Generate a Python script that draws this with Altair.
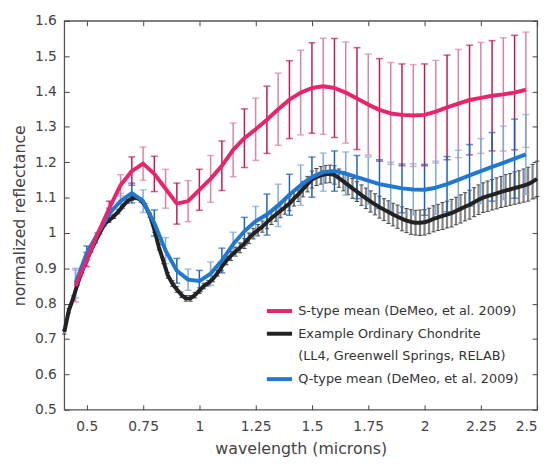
import altair as alt
import pandas as pd

# ---------------- data ----------------
demeo_wavelength = [0.45, 0.50, 0.55, 0.60, 0.65, 0.70, 0.75, 0.80, 0.85, 0.90,
                    0.95, 1.00, 1.05, 1.10, 1.15, 1.20, 1.25, 1.30, 1.35, 1.40,
                    1.45, 1.50, 1.55, 1.60, 1.65, 1.70, 1.75, 1.80, 1.85, 1.90,
                    1.95, 2.00, 2.05, 2.10, 2.15, 2.20, 2.25, 2.30, 2.35, 2.40, 2.45]

s_mean = [0.850, 0.925, 1.000, 1.070, 1.135, 1.175, 1.196, 1.167, 1.125, 1.083,
          1.090, 1.122, 1.153, 1.190, 1.235, 1.268, 1.293, 1.320, 1.350, 1.377,
          1.397, 1.410, 1.415, 1.410, 1.397, 1.380, 1.363, 1.348, 1.338, 1.334,
          1.332, 1.334, 1.343, 1.355, 1.366, 1.376, 1.382, 1.388, 1.392, 1.397, 1.405]
s_err = [0.045, 0.020, 0.000, 0.020, 0.030, 0.040, 0.047, 0.050, 0.055, 0.058,
         0.058, 0.058, 0.066, 0.070, 0.076, 0.083, 0.088, 0.095, 0.102, 0.110,
         0.120, 0.128, 0.136, 0.140, 0.143, 0.144, 0.143, 0.145, 0.144, 0.144,
         0.144, 0.144, 0.145, 0.148, 0.153, 0.155, 0.157, 0.156, 0.160, 0.162, 0.163]

q_mean = [0.858, 0.943, 1.000, 1.055, 1.090, 1.113, 1.090, 1.028, 0.950, 0.893,
          0.868, 0.864, 0.885, 0.922, 0.968, 1.005, 1.033, 1.052, 1.078, 1.108,
          1.135, 1.158, 1.172, 1.175, 1.168, 1.158, 1.148, 1.138, 1.132, 1.126,
          1.123, 1.122, 1.128, 1.138, 1.150, 1.163, 1.175, 1.187, 1.198, 1.210, 1.222]
q_err = [0.042, 0.020, 0.000, 0.015, 0.022, 0.028, 0.032, 0.037, 0.037, 0.035,
         0.030, 0.030, 0.033, 0.035, 0.034, 0.039, 0.042, 0.058, 0.060, 0.058,
         0.057, 0.057, 0.054, 0.057, 0.061, 0.061, 0.067, 0.069, 0.068, 0.069,
         0.072, 0.072, 0.075, 0.078, 0.084, 0.087, 0.092, 0.097, 0.104, 0.112, 0.113]

# ordinary chondrite spectrum, sampled every 0.02 micron from 0.40 to 2.50
oc_wavelength = [round(0.40 + 0.02 * i, 2) for i in range(106)]
oc_refl = [0.720, 0.780, 0.816, 0.858, 0.893, 0.924, 0.952, 0.978, 1.003, 1.026,
           1.036, 1.047, 1.060, 1.076, 1.090, 1.098, 1.100, 1.093, 1.077, 1.050,
           1.010, 0.960, 0.921, 0.880, 0.857, 0.840, 0.825, 0.815, 0.815, 0.824,
           0.837, 0.850, 0.858, 0.870, 0.886, 0.905, 0.922, 0.935, 0.947, 0.958,
           0.970, 0.985, 0.998, 1.008, 1.018, 1.030, 1.042, 1.052, 1.062, 1.073,
           1.083, 1.097, 1.110, 1.124, 1.138, 1.151, 1.158, 1.163, 1.166, 1.167,
           1.164, 1.155, 1.146, 1.136, 1.126, 1.117, 1.107, 1.098, 1.089, 1.081,
           1.073, 1.066, 1.059, 1.052, 1.046, 1.040, 1.035, 1.031, 1.029, 1.029,
           1.030, 1.034, 1.040, 1.044, 1.048, 1.052, 1.056, 1.062, 1.068, 1.074,
           1.080, 1.087, 1.094, 1.100, 1.104, 1.108, 1.112, 1.116, 1.120, 1.123,
           1.127, 1.130, 1.134, 1.138, 1.145, 1.153]
oc_err = [0.006] * 20 + [0.008] * 15 + [
    0.012, 0.012, 0.013, 0.013, 0.014, 0.014, 0.015, 0.015, 0.016, 0.016,
    0.018, 0.018, 0.019, 0.019, 0.020, 0.020, 0.021, 0.021, 0.022, 0.022,
    0.024, 0.024, 0.025, 0.025, 0.025, 0.026, 0.026, 0.027, 0.027, 0.028,
    0.028, 0.029, 0.029, 0.030, 0.030, 0.031, 0.031, 0.032, 0.032, 0.033,
    0.034, 0.034, 0.035, 0.035, 0.036, 0.036, 0.036, 0.037, 0.037, 0.038,
    0.038, 0.039, 0.039, 0.040, 0.040, 0.041, 0.041, 0.042, 0.042, 0.043,
    0.043, 0.044, 0.044, 0.045, 0.045, 0.046, 0.046, 0.047, 0.048, 0.049, 0.050]

S_NAME = "S-type mean (DeMeo, et al. 2009)"
OC_NAME = "Example Ordinary Chondrite"
OC_NOTE = "(LL4, Greenwell Springs, RELAB)"
Q_NAME = "Q-type mean (DeMeo, et al. 2009)"

x_ticks = [0.5, 0.75, 1.0, 1.25, 1.5, 1.75, 2.0, 2.25, 2.5]
y_ticks = [0.5, 0.6, 0.7, 0.8, 0.9, 1.0, 1.1, 1.2, 1.3, 1.4, 1.5, 1.6]

PINK = "#e8256c"
BLACK = "#222222"
BLUE = "#2178d3"
PINK_DARK, PINK_LIGHT = "#c2185b", "#de82a3"
BLUE_DARK, BLUE_LIGHT = "#1a62b8", "#7fa9db"

FONT = "DejaVu Sans"
TEXT = "#444444"

# ---------------- tables ----------------
s_df = pd.DataFrame({"wavelength": demeo_wavelength, "refl": s_mean, "err": s_err,
                     "series": S_NAME})
q_df = pd.DataFrame({"wavelength": demeo_wavelength, "refl": q_mean, "err": q_err,
                     "series": Q_NAME})
oc_df = pd.DataFrame({"wavelength": oc_wavelength, "refl": oc_refl, "err": oc_err,
                      "series": OC_NAME})
for d in (s_df, q_df, oc_df):
    d["lo"] = d["refl"] - d["err"]
    d["hi"] = d["refl"] + d["err"]
    d["odd"] = [i % 2 for i in range(len(d))]

xscale = alt.Scale(domain=[0.4, 2.5], nice=False, zero=False)
yscale = alt.Scale(domain=[0.5, 1.6], nice=False, zero=False)

W, H = 479, 394

x_bottom = alt.Axis(orient="bottom", values=x_ticks, format=".2~f",
                    title="wavelength (microns)", tickSize=5, offset=-5,
                    domain=False, grid=False, labelPadding=10, titlePadding=7)
y_left = alt.Axis(orient="left", values=y_ticks, format=".2~f",
                  title="normalized reflectance", tickSize=5, offset=-5,
                  domain=False, grid=False, labelPadding=8, titlePadding=7)
x_top = alt.Axis(orient="top", values=x_ticks, labels=False, title=None,
                 tickSize=5, offset=-5, domain=False, grid=False)
y_right = alt.Axis(orient="right", values=y_ticks, labels=False, title=None,
                   tickSize=5, offset=-5, domain=False, grid=False)


def xq(axis=None):
    return alt.X("wavelength:Q", scale=xscale, axis=axis)


def bars(df, color, cap_size, cap_color, width, cap_width, axes=None):
    ax_x, ax_y = (axes if axes else (None, None))
    base = alt.Chart(df)
    rule = base.mark_rule(color=color, strokeWidth=width).encode(
        x=xq(ax_x),
        y=alt.Y("lo:Q", scale=yscale, axis=ax_y),
        y2="hi:Q",
    )
    cap_lo = base.mark_tick(color=cap_color, orient="horizontal", size=cap_size,
                            thickness=cap_width).encode(
        x=xq(), y=alt.Y("lo:Q", scale=yscale, axis=None))
    cap_hi = base.mark_tick(color=cap_color, orient="horizontal", size=cap_size,
                            thickness=cap_width).encode(
        x=xq(), y=alt.Y("hi:Q", scale=yscale, axis=None))
    return [rule, cap_lo, cap_hi]


layers = []
# ordinary chondrite error bars (also carries the top/right inward tick axes)
layers += bars(oc_df, "#858585", 4.5, "#111111", 2.2, 1, axes=(x_top, y_right))
# S and Q error bars, alternating shades
for df, dark, light in ((s_df, PINK_DARK, PINK_LIGHT), (q_df, BLUE_DARK, BLUE_LIGHT)):
    layers += bars(df[df["odd"] == 0], light, 7, light, 1.5, 1.5)
    layers += bars(df[df["odd"] == 1], dark, 7, dark, 1.5, 1.5)

color_enc = alt.Color(
    "series:N",
    scale=alt.Scale(domain=[S_NAME, OC_NAME, OC_NOTE, Q_NAME],
                    range=[PINK, BLACK, "#ffffff", BLUE]),
    legend=alt.Legend(title=None, orient="none", legendX=203, legendY=279,
                      symbolType="stroke", symbolSize=650, symbolStrokeWidth=4,
                      labelFont=FONT, labelFontSize=13, labelColor="#333333",
                      labelLimit=400, rowPadding=0, labelOffset=4, padding=0),
)

for i, df in enumerate((oc_df, q_df, s_df)):
    layers.append(
        alt.Chart(df).mark_line(strokeWidth=4, strokeJoin="round").encode(
            x=xq(x_bottom if i == 0 else None),
            y=alt.Y("refl:Q", scale=yscale, axis=y_left if i == 0 else None),
            color=color_enc,
        )
    )

chart = (
    alt.layer(*layers)
    .resolve_axis(x="independent", y="independent")
    .properties(width=W, height=H, padding={"left": 3, "top": 3, "right": 5, "bottom": 5})
    .configure_view(stroke="#555555", strokeWidth=1.3)
    .configure_axis(labelFont=FONT, labelFontSize=14, labelColor=TEXT,
                    titleFont=FONT, titleFontSize=16, titleColor=TEXT,
                    titleFontWeight="normal", tickColor="#444444", tickWidth=1)
)

chart.save("out.html", embed_options={"renderer": "svg", "actions": False})
